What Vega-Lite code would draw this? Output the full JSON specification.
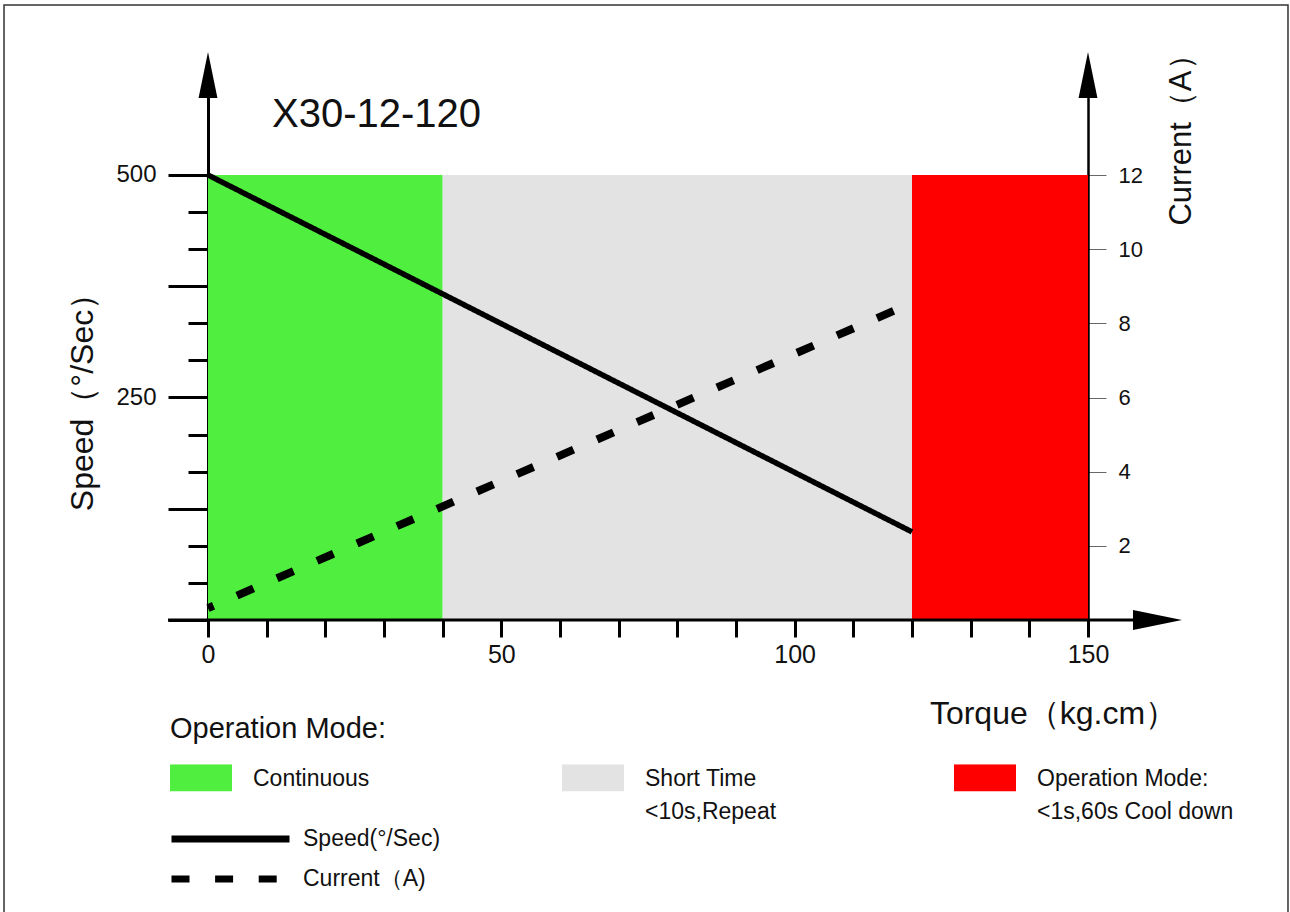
{
  "$schema": "https://vega.github.io/schema/vega-lite/v6.json",
  "width": 880,
  "height": 550,
  "autosize": {"type": "none"},
  "padding": {"left": 208, "top": 70, "right": 202, "bottom": 292},
  "background": "white",
  "datasets": {
    "zones": [
      {"mode": "Continuous", "t0": 0, "t1": 40, "top": 500},
      {"mode": "Short Time\n<10s,Repeat", "t0": 40, "t1": 120, "top": 500},
      {"mode": "Operation Mode:\n<1s,60s Cool down", "t0": 120, "t1": 150, "top": 500}
    ],
    "curves": [
      {"torque": 0, "speed": 500, "current": 0.32},
      {"torque": 120, "speed": 99, "current": 8.55}
    ]
  },
  "data": {"values": [{}]},
  "config": {
    "font": "Liberation Sans",
    "view": {"stroke": null},
    "axis": {"grid": false, "zindex": 1, "labelColor": "#111", "titleColor": "#111", "labelFont": "Liberation Sans", "titleFont": "Liberation Sans", "titleFontWeight": "normal"},
    "legend": {"labelColor": "#111", "titleColor": "#111", "titleFontWeight": "normal", "labelLimit": 500, "titleLimit": 500, "padding": 0, "labelFont": "Liberation Sans", "titleFont": "Liberation Sans"}
  },
  "layer": [
    {
      "data": {"name": "zones"},
      "mark": {"type": "rect"},
      "encoding": {
        "x": {
          "field": "t0", "type": "quantitative",
          "scale": {"domain": [0, 150], "nice": false, "zero": false},
          "axis": {
            "orient": "bottom",
            "values": [0, 10, 20, 30, 40, 50, 60, 70, 80, 90, 100, 110, 120, 130, 140, 150],
            "domain": false, "ticks": true, "tickSize": 17, "tickWidth": 3, "tickColor": "black",
            "labelExpr": "datum.value % 50 === 0 ? datum.label : ''",
            "labelFontSize": 25, "labelPadding": 5, "labelFlush": false,
            "title": "Torque（kg.cm）", "titleFontSize": 32, "titleX": 845, "titleY": 93,
            "titleAlign": "center", "titleBaseline": "middle"
          }
        },
        "x2": {"field": "t1"},
        "y": {
          "field": "top", "type": "quantitative",
          "scale": {"domain": [0, 617.977], "nice": false},
          "axis": {
            "orient": "left",
            "values": [0, 41.6667, 83.3333, 125, 166.6667, 208.3333, 250, 291.6667, 333.3333, 375, 416.6667, 458.3333, 500],
            "domain": false, "labels": false, "tickSize": 20, "tickWidth": 3, "tickColor": "black", "title": null
          }
        },
        "y2": {"datum": 0},
        "fill": {
          "field": "mode", "type": "nominal",
          "scale": {
            "domain": ["Continuous", "Short Time\n<10s,Repeat", "Operation Mode:\n<1s,60s Cool down"],
            "range": ["#50EE3E", "#E3E3E3", "#FF0000"]
          },
          "legend": {
            "orient": "none", "legendX": -38, "legendY": 645,
            "title": "Operation Mode:", "titleFontSize": 29, "titlePadding": 20,
            "direction": "horizontal", "columns": 3, "gridAlign": "all", "columnPadding": 112,
            "symbolType": "M-1,-0.435H1V0.435H-1Z", "symbolSize": 3844, "symbolStrokeWidth": 0, "symbolOpacity": 1,
            "clipHeight": 27,
            "labelFontSize": 23, "labelOffset": 21, "labelBaseline": "top",
            "labelExpr": "indexof(datum.label, '\\n') < 0 ? [datum.label, ' '] : split(datum.label, '\\n')",
            "encode": {"labels": {"update": {"dy": {"value": -10}, "lineHeight": {"value": 33}}}}
          }
        }
      }
    },
    {
      "layer": [
        {
          "mark": {"type": "rect", "fill": null, "stroke": "#333", "strokeWidth": 1.5},
          "encoding": {
            "x": {"datum": -34.77, "type": "quantitative", "scale": {"domain": [0, 150], "nice": false, "zero": false}},
            "x2": {"datum": 184.09},
            "y": {"datum": 691, "type": "quantitative", "scale": {"domain": [0, 617.977], "nice": false}},
            "y2": {"datum": -348}
          }
        },
        {
          "data": {"name": "curves"},
          "mark": {"type": "line", "color": "black", "strokeWidth": 5.5, "strokeCap": "butt"},
          "encoding": {
            "x": {"field": "torque", "type": "quantitative", "scale": {"domain": [0, 150], "nice": false, "zero": false}},
            "y": {
              "field": "speed", "type": "quantitative",
              "scale": {"domain": [0, 617.977], "nice": false},
              "axis": {
                "orient": "left",
                "values": [0, 125, 250, 375, 500],
                "domain": true, "domainWidth": 3, "domainColor": "black",
                "tickSize": 40, "tickWidth": 3, "tickColor": "black",
                "labelExpr": "(datum.value == 250 || datum.value == 500) ? datum.label : ''",
                "labelFontSize": 24, "labelPadding": 12,
                "title": "Speed（°/Sec）", "titleFontSize": 32, "titleAngle": 270,
                "titleX": -126, "titleY": 324, "titleAlign": "center", "titleBaseline": "middle"
              }
            },
            "strokeDash": {
              "datum": "Speed(°/Sec)",
              "scale": {"domain": ["Speed(°/Sec)", "Current（A)"], "range": [[1, 0], [18, 25.6]]},
              "legend": {
                "orient": "none", "legendX": -40, "legendY": 765, "title": null,
                "direction": "vertical", "symbolType": "stroke", "symbolSize": 13924,
                "symbolStrokeWidth": 7, "symbolStrokeColor": "black", "clipHeight": 8, "rowPadding": 17,
                "labelFontSize": 23, "labelOffset": 10, "labelBaseline": "middle",
                "encode": {"symbols": {"update": {"strokeDash": {"signal": "datum.value == 'Current（A)' ? [13, 20] : [1, 0]"}}}}
              }
            }
          }
        },
        {
          "mark": {"type": "rule", "color": "black", "strokeWidth": 3},
          "encoding": {
            "x": {"datum": -6.82, "type": "quantitative", "scale": {"domain": [0, 150], "nice": false, "zero": false}},
            "x2": {"datum": 158.9},
            "y": {"datum": 0, "type": "quantitative", "scale": {"domain": [0, 617.977], "nice": false}}
          }
        },
        {
          "mark": {"type": "point", "shape": "M0,-1L0.41,1L-0.41,1Z", "filled": true, "color": "black", "opacity": 1, "size": 2116, "strokeWidth": 0},
          "encoding": {
            "x": {"datum": 0, "type": "quantitative", "scale": {"domain": [0, 150], "nice": false, "zero": false}},
            "y": {"datum": 612.4, "type": "quantitative", "scale": {"domain": [0, 617.977], "nice": false}}
          }
        },
        {
          "mark": {"type": "point", "shape": "M0,-1L0.41,1L-0.41,1Z", "filled": true, "color": "black", "opacity": 1, "size": 2116, "strokeWidth": 0},
          "encoding": {
            "x": {"datum": 150, "type": "quantitative", "scale": {"domain": [0, 150], "nice": false, "zero": false}},
            "y": {"datum": 612.4, "type": "quantitative", "scale": {"domain": [0, 617.977], "nice": false}}
          }
        },
        {
          "mark": {"type": "point", "shape": "M1,0L-1,0.41L-1,-0.41Z", "filled": true, "color": "black", "opacity": 1, "size": 2401, "strokeWidth": 0},
          "encoding": {
            "x": {"datum": 161.85, "type": "quantitative", "scale": {"domain": [0, 150], "nice": false, "zero": false}},
            "y": {"datum": 0, "type": "quantitative", "scale": {"domain": [0, 617.977], "nice": false}}
          }
        },
        {
          "mark": {"type": "text", "text": "X30-12-120", "fontSize": 40, "align": "left", "baseline": "alphabetic", "color": "#111", "font": "Liberation Sans"},
          "encoding": {
            "x": {"datum": 10.91, "type": "quantitative", "scale": {"domain": [0, 150], "nice": false, "zero": false}},
            "y": {"datum": 553.9, "type": "quantitative", "scale": {"domain": [0, 617.977], "nice": false}}
          }
        }
      ]
    },
    {
      "data": {"name": "curves"},
      "mark": {"type": "line", "color": "black", "strokeWidth": 8, "strokeDashOffset": 12, "strokeCap": "butt"},
      "encoding": {
        "x": {"field": "torque", "type": "quantitative", "scale": {"domain": [0, 150], "nice": false, "zero": false}},
        "y": {
          "field": "current", "type": "quantitative",
          "scale": {"domain": [0, 14.8315], "nice": false},
          "axis": {
            "orient": "right",
            "values": [2, 4, 6, 8, 10, 12],
            "domain": true, "domainWidth": 2.5, "domainColor": "black",
            "tickSize": 18, "tickWidth": 1, "tickColor": "#666",
            "labelFontSize": 22, "labelPadding": 12,
            "title": "Current（A）", "titleFontSize": 31, "titleAngle": 270,
            "titleX": 93, "titleY": 62, "titleAlign": "center", "titleBaseline": "middle"
          }
        },
        "strokeDash": {
          "datum": "Current（A)",
          "scale": {"domain": ["Speed(°/Sec)", "Current（A)"], "range": [[1, 0], [18, 25.6]]},
          "legend": {
            "orient": "none", "legendX": -40, "legendY": 765, "title": null,
            "direction": "vertical", "symbolType": "stroke", "symbolSize": 13924,
            "symbolStrokeWidth": 7, "symbolStrokeColor": "black", "clipHeight": 8, "rowPadding": 17,
            "labelFontSize": 23, "labelOffset": 10, "labelBaseline": "middle",
            "encode": {"symbols": {"update": {"strokeDash": {"signal": "datum.value == 'Current（A)' ? [13, 20] : [1, 0]"}}}}
          }
        }
      }
    }
  ],
  "resolve": {"scale": {"y": "independent"}, "axis": {"y": "independent"}}
}
